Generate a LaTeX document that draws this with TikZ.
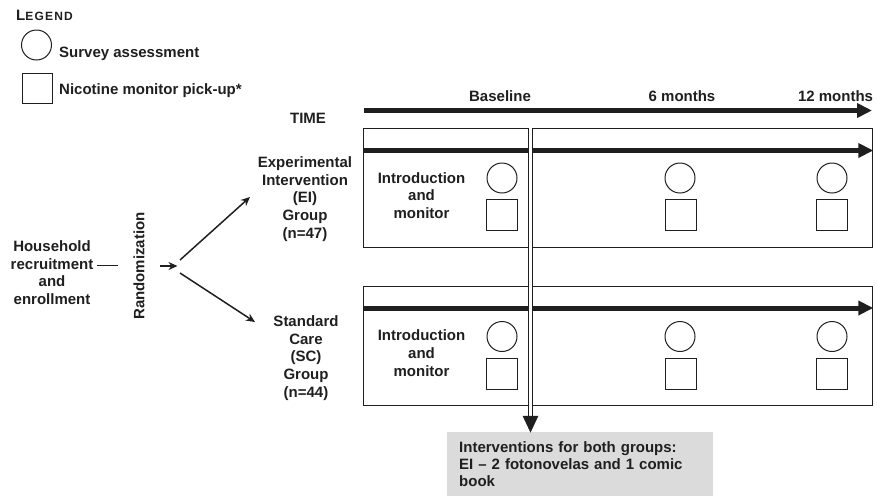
\documentclass[tikz,border=0pt]{standalone}
\usepackage{fontspec}
\setmainfont{Liberation Sans}
\usetikzlibrary{arrows.meta}
\definecolor{ink}{gray}{0.12}
\definecolor{notegray}{gray}{0.86}
\tikzset{
  txt/.style={font=\bfseries\fontsize{15}{17.7}\selectfont, inner sep=0pt, align=center, text=ink},
  circ/.style={draw=ink, circle, minimum size=30pt, inner sep=0pt, line width=1pt},
  sq/.style={draw=ink, rectangle, minimum size=31pt, inner sep=0pt, line width=1pt},
  grpbox/.style={draw=ink, rectangle, line width=1.3pt, minimum width=509pt, minimum height=119pt, inner sep=0pt, anchor=north west},
  timearrow/.style={draw=ink, line width=5pt, -{Triangle[length=15pt,width=14pt]}},
  thinarrow/.style={draw=ink, line width=1.5pt, -{Stealth[length=9pt,width=8pt]}},
  dbl/.style={draw=ink, line width=1.3pt, double=white, double distance=2.8pt},
}
\begin{document}
\begin{tikzpicture}[x=1pt,y=-1pt]
\useasboundingbox (0,0) rectangle (877,496);

% Legend
\node[txt, anchor=base west] (legend) at (16,20) {L\fontsize{12}{12}\selectfont\addfontfeatures{LetterSpace=10}EGEND};
\node[circ] (lc) at (36.5,45) {};
\node[txt, anchor=base west] (lct) at (59,57) {Survey assessment};
\node[sq, minimum size=30pt] (ls) at (37,88.5) {};
\node[txt, anchor=base west] (lst) at (59,94) {Nicotine monitor pick-up*};

% Time axis
\node[txt, anchor=base] (time) at (308,123) {TIME};
\node[txt, anchor=base] (base) at (500,101) {Baseline};
\node[txt, anchor=base] (m6) at (682,101) {6 months};
\node[txt, anchor=base] (m12) at (835.5,101) {12 months};
\coordinate (t0) at (364,110.5);
\coordinate (t1) at (872,110.5);
\draw[timearrow] (t0) -- (t1);

% Left side
\node[txt] (hh) at (52,272.5) {Household\\recruitment\\and\\enrollment};
\coordinate (d0) at (97,265.5);
\coordinate (d1) at (118,265.5);
\draw[draw=ink, line width=1.6pt] (d0) -- (d1);
\node[txt, rotate=90] (rand) at (139,266) {Randomization};
\coordinate (r0) at (160,266);
\coordinate (r1) at (177.5,266);
\draw[thinarrow] (r0) -- (r1);
\coordinate (ea0) at (180,260);
\coordinate (ea1) at (250,197);
\coordinate (sa0) at (180,273);
\coordinate (sa1) at (255,322);
\draw[thinarrow] (ea0) -- (ea1);
\draw[thinarrow] (sa0) -- (sa1);

% Group labels
\node[txt] (eil) at (305,199) {Experimental\\Intervention\\(EI)\\Group\\(n=47)};
\node[txt] (scl) at (306,358) {Standard\\Care\\(SC)\\Group\\(n=44)};

% EI box
\node[grpbox] (ei) at (363,128) {};
\draw[timearrow] ([yshift=-22.5pt]ei.north west) -- ([yshift=-22.5pt]ei.north east);
\node[txt] (eiintro) at (421.5,195.5) {Introduction\\and\\monitor};
\node[circ] (eic0) at (502,178) {};
\node[sq] (eis0) at (501.5,215) {};
\node[circ] (eic6) at (680,178) {};
\node[sq] (eis6) at (680.5,215) {};
\node[circ] (eic12) at (832,178) {};
\node[sq] (eis12) at (832,215) {};

% SC box
\node[grpbox] (sc) at (363,285.5) {};
\draw[timearrow] ([yshift=-22.5pt]sc.north west) -- ([yshift=-22.5pt]sc.north east);
\node[txt] (scintro) at (421.5,353) {Introduction\\and\\monitor};
\node[circ] (scc0) at (502,336.5) {};
\node[sq] (scs0) at (501.5,373.5) {};
\node[circ] (scc6) at (680,336.5) {};
\node[sq] (scs6) at (680.5,373.5) {};
\node[circ] (scc12) at (832,336.5) {};
\node[sq] (scs12) at (832,373.5) {};

% Note box
\node[fill=notegray, anchor=north west, minimum width=266pt, minimum height=64pt,
      inner xsep=12pt, inner ysep=0pt, text width=242pt, align=left,
      font=\bfseries\fontsize{15}{17}\selectfont, text=ink] (note) at (447,432)
      {Interventions for both groups:\\EI -- 2 fotonovelas and 1 comic\\book};

% Baseline double line with arrow
\coordinate (dtop) at (530.5,128);
\coordinate (dmid) at (530.5,417);
\draw[dbl] (dtop) -- (dmid);
\draw[draw=ink, fill=ink, line width=0.5pt] (note.north -| dtop) -- ++(-7.5,-16) -- ++(15,0) -- cycle;
\end{tikzpicture}
\end{document}
